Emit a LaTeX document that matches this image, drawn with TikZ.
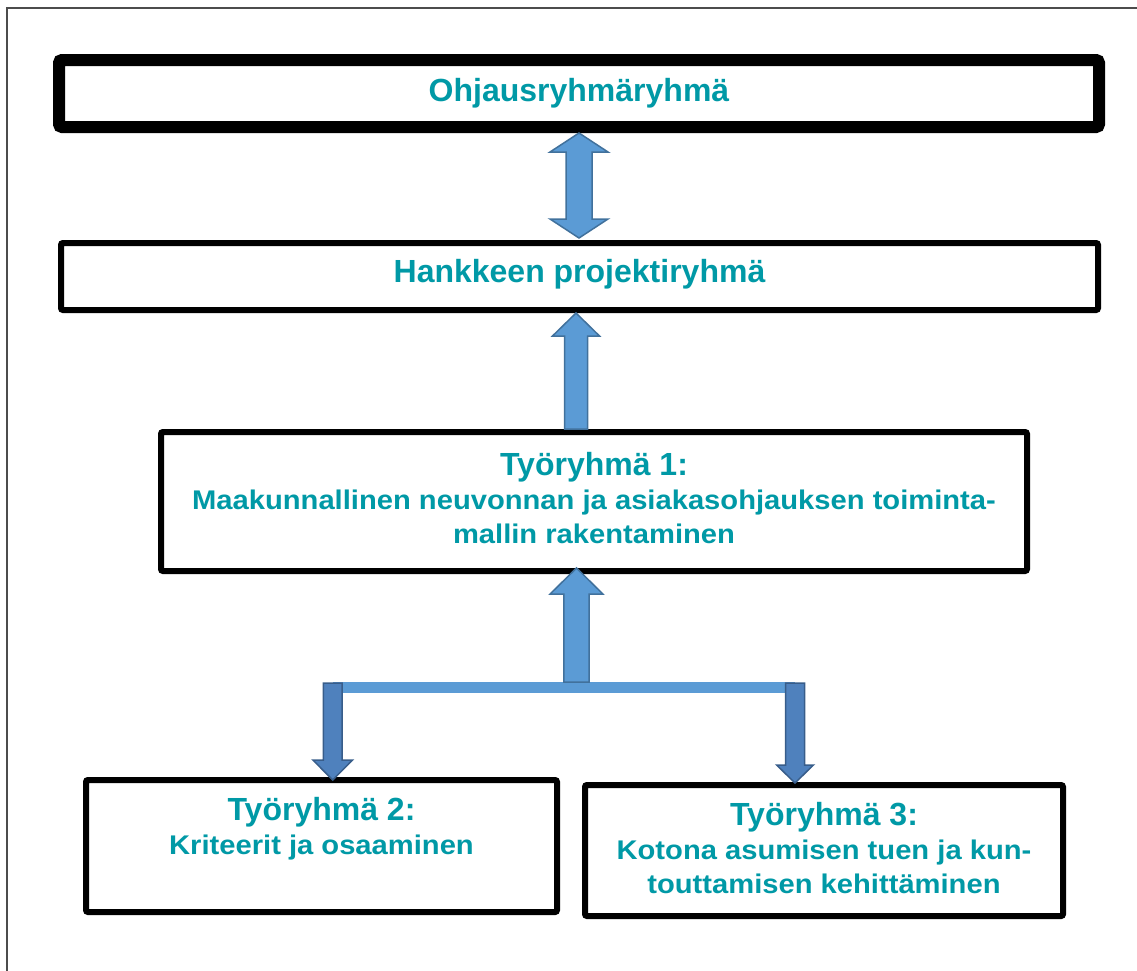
\documentclass[tikz,border=0pt]{standalone}
\usepackage{fontspec}
\setmainfont{Liberation Sans}
\newfontfamily\bodyfont{Liberation Sans}[FakeStretch=1.08]
\usetikzlibrary{calc}

\definecolor{labelteal}{RGB}{0,153,166}
\definecolor{arrowblue}{RGB}{91,155,213}
\definecolor{arrowedge}{RGB}{65,113,156}
\definecolor{arrowdark}{RGB}{79,129,189}
\definecolor{arrowdarkedge}{RGB}{56,93,138}

\tikzset{
  frameline/.style={draw=black!70, line width=1.5pt},
  box/.style={draw=black, fill=white, line width=6pt, rounded corners=2pt, inner sep=0pt},
  heavybox/.style={box, line width=12pt, rounded corners=3pt},
  boxtext/.style={text=labelteal, font=\bfseries\fontsize{32}{34}\selectfont, align=center, inner sep=0pt},
  subtext/.style={boxtext, font=\bodyfont\bfseries\fontsize{27}{34}\selectfont},
  blockup/.style={fill=arrowblue, draw=arrowedge, line width=1.5pt, line join=miter},
  blockdown/.style={fill=arrowdark, draw=arrowdarkedge, line width=1.5pt, line join=miter},
  barline/.style={draw=arrowblue, line width=11pt}
}
\newcommand\grouptitle[1]{{\normalfont\bfseries\fontsize{32}{34}\selectfont #1}}

\begin{document}
\begin{tikzpicture}[x=1pt, y=-1pt]
\useasboundingbox (0,0) rectangle (1137,970);

% page frame
\draw[frameline] (7,975) -- (7,8) -- (1142,8);

% boxes
\node[heavybox, minimum width=1040pt, minimum height=67pt] (b1) at (579,93.5) {};
\node[boxtext] (b1t) at (b1.center) {Ohjausryhmäryhmä};

\node[box, minimum width=1037pt, minimum height=67pt] (b2) at (579.5,276.5) {};
\node[boxtext] (b2t) at ($(b2.center)+(0,-2)$) {Hankkeen projektiryhmä};

\node[box, minimum width=866pt, minimum height=139pt] (b3) at (594,501.5) {};
\node[subtext] (b3t) at ($(b3.center)+(0,-3)$)
  {\grouptitle{Työryhmä 1:}\\
   Maakunnallinen neuvonnan ja asiakasohjauksen toiminta-\\
   mallin rakentaminen};

\node[box, minimum width=471pt, minimum height=132pt] (b4) at (321.5,846) {};
\node[subtext, anchor=north] (b4t) at ($(b4.north)+(0,20)$)
  {\grouptitle{Työryhmä 2:}\\
   Kriteerit ja osaaminen};

\node[box, minimum width=478pt, minimum height=131pt] (b5) at (824,850.5) {};
\node[subtext, anchor=north] (b5t) at ($(b5.north)+(0,20)$)
  {\grouptitle{Työryhmä 3:}\\
   Kotona asumisen tuen ja kun-\\
   touttamisen kehittäminen};

% junction bar feeding the lower working groups
\coordinate (jl) at (332.7,687.5);
\coordinate (jc) at (576.5,687.5);
\coordinate (jr) at (795,687.5);
\draw[barline] (jl) -- (jr);

% two-way link between the steering group and the project group
\draw[blockup] let \p1=(b1.south), \p2=(b2.north) in
  (\x1,\y1) -- (\x1+29pt,\y1-19pt) -- (\x1+13pt,\y1-19pt) --
  (\x1+13pt,\y2+21pt) -- (\x1+29pt,\y2+21pt) -- (\x1,\y2+2pt) --
  (\x1-29pt,\y2+21pt) -- (\x1-13pt,\y2+21pt) --
  (\x1-13pt,\y1-19pt) -- (\x1-29pt,\y1-19pt) -- cycle;

% working group 1 reports to the project group
\draw[blockup] let \p1=(b2.south), \p2=(b3.north) in
  (\x1-3.5pt,\y1) -- (\x1+20pt,\y1-23pt) -- (\x1+8pt,\y1-23pt) --
  (\x1+8pt,\y2) -- (\x1-15pt,\y2) -- (\x1-15pt,\y1-23pt) --
  (\x1-27pt,\y1-23pt) -- cycle;

% junction up to working group 1
\draw[blockup] let \p1=(b3.south), \p2=(jc) in
  (\x2,\y1+6pt) -- (\x2+26.4pt,\y1-20pt) -- (\x2+12.6pt,\y1-20pt) --
  (\x2+12.6pt,\y2+5.5pt) -- (\x2-12.6pt,\y2+5.5pt) -- (\x2-12.6pt,\y1-20pt) --
  (\x2-26.4pt,\y1-20pt) -- cycle;

% junction down to working groups 2 and 3
\draw[blockdown] let \p1=(jl), \p2=(b4.north) in
  (\x1-9.3pt,\y1+4.5pt) -- (\x1+9.3pt,\y1+4.5pt) -- (\x1+9.3pt,\y2+17pt) --
  (\x1+19.8pt,\y2+17pt) -- (\x1,\y2-3pt) -- (\x1-19.8pt,\y2+17pt) --
  (\x1-9.3pt,\y2+17pt) -- cycle;

\draw[blockdown] let \p1=(jr), \p2=(b5.north) in
  (\x1-9.5pt,\y1+4.5pt) -- (\x1+9.5pt,\y1+4.5pt) -- (\x1+9.5pt,\y2+17pt) --
  (\x1+18.4pt,\y2+17pt) -- (\x1,\y2-1pt) -- (\x1-18.4pt,\y2+17pt) --
  (\x1-9.5pt,\y2+17pt) -- cycle;
\end{tikzpicture}
\end{document}
